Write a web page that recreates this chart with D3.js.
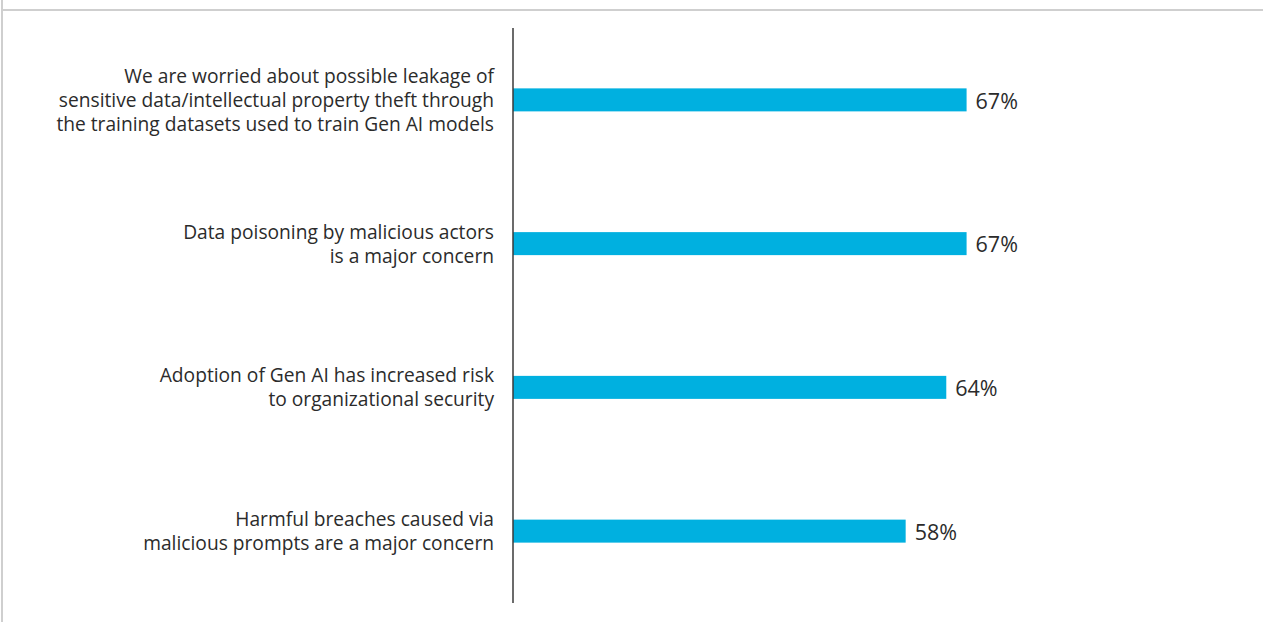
<!DOCTYPE html>
<html><head><meta charset="utf-8">
<script src="https://cdn.jsdelivr.net/npm/d3@7"></script>
<style>
html,body{margin:0;padding:0;background:#fff;}
svg{display:block;}
</style></head>
<body>
<script>
const categories = [
  ["We are worried about possible leakage of", "sensitive data/intellectual property theft through", "the training datasets used to train Gen AI models"],
  ["Data poisoning by malicious actors", "is a major concern"],
  ["Adoption of Gen AI has increased risk", "to organizational security"],
  ["Harmful breaches caused via", "malicious prompts are a major concern"]
];
const values = [67, 67, 64, 58];
const valueLabels = ["67%", "67%", "64%", "58%"];

const W = 1267, H = 622;
const svg = d3.select("body").append("svg").attr("width", W).attr("height", H);

// frame
svg.append("line").attr("x1", 2).attr("x2", 2).attr("y1", 0).attr("y2", H)
  .attr("stroke", "#cfcfcf").attr("stroke-width", 2);
svg.append("line").attr("x1", 2).attr("x2", 1263).attr("y1", 10).attr("y2", 10)
  .attr("stroke", "#cfcfcf").attr("stroke-width", 2);

const x = d3.scaleLinear().domain([0, 100]).range([513, 1190]);
const y = d3.scaleBand().domain(d3.range(categories.length)).range([28, 603]).padding(0);
const barH = 23;

svg.selectAll("rect.bar").data(values).join("rect").attr("class", "bar")
  .attr("x", x(0)).attr("width", d => x(d) - x(0))
  .attr("y", (d, i) => y(i) + y.bandwidth() / 2 - barH / 2)
  .attr("height", barH).attr("fill", "#00b0e0");

svg.selectAll("text.val").data(values).join("text").attr("class", "val")
  .attr("x", d => x(d) + 9)
  .attr("y", (d, i) => y(i) + y.bandwidth() / 2 + 1)
  .attr("dy", "0.36em")
  .attr("font-family", "'Open Sans', sans-serif").attr("font-size", 21.5)
  .attr("fill", "#2b2b2b")
  .text((d, i) => valueLabels[i]);

const lineH = 24;
const lab = svg.selectAll("text.lab").data(categories).join("text").attr("class", "lab")
  .attr("text-anchor", "end")
  .attr("font-family", "'Open Sans', sans-serif").attr("font-size", 19.2)
  .attr("fill", "#2b2b2b");
lab.each(function(lines, i) {
  const cy = y(i) + y.bandwidth() / 2;
  const start = cy - (lines.length - 1) * lineH / 2;
  d3.select(this).selectAll("tspan").data(lines).join("tspan")
    .attr("x", 494).attr("y", (d, j) => start + j * lineH).attr("dy", "0.36em").text(d => d);
});

// axis
svg.append("line").attr("x1", x(0)).attr("x2", x(0)).attr("y1", 28).attr("y2", 603)
  .attr("stroke", "#3a3a3a").attr("stroke-width", 1.5);
</script>
</body></html>
